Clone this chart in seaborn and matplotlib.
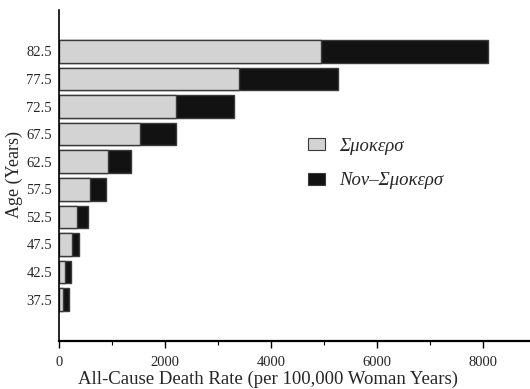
import matplotlib
matplotlib.use("Agg")
import matplotlib.pyplot as plt
import matplotlib.patches as mpatches
from matplotlib.ticker import MultipleLocator
import seaborn as sns
import pandas as pd

# Age-group midpoints (top to bottom) and death rates per 100,000 woman-years
ages = ["82.5", "77.5", "72.5", "67.5", "62.5", "57.5", "52.5", "47.5", "42.5", "37.5"]
smokers = [4950, 3400, 2210, 1530, 930, 590, 340, 245, 115, 80]
non_smokers = [3150, 1860, 1090, 670, 430, 300, 210, 130, 110, 100]

df = pd.DataFrame({"age": ages, "smokers": smokers, "non_smokers": non_smokers})
df["total"] = df["smokers"] + df["non_smokers"]

sns.set_theme(style="white")
plt.rcParams["font.family"] = ["Liberation Serif", "DejaVu Serif"]

fig = plt.figure(figsize=(5.30, 3.89), dpi=100)
ax = fig.add_axes([59 / 530, 1 - 341 / 389, 1 - 59 / 530, 331 / 389])

light = "#d3d3d3"
dark = "#121212"
edge = "#3a3a3a"

# Stacked bars: full total in black underneath, smokers' share in grey on top
sns.barplot(data=df, y="age", x="total", order=ages, orient="h", color=dark,
            saturation=1, width=0.82, edgecolor=edge, linewidth=1.0, ax=ax)
sns.barplot(data=df, y="age", x="smokers", order=ages, orient="h", color=light,
            saturation=1, width=0.82, edgecolor=edge, linewidth=1.0, ax=ax)

ax.set_ylim(len(ages) + 0.5, -1.5)
ax.set_xlim(0, 8890)

ax.xaxis.set_major_locator(MultipleLocator(2000))
ax.xaxis.set_minor_locator(MultipleLocator(1000))
ax.tick_params(axis="x", which="major", direction="out", length=5, width=1,
               color="black", labelsize=10.5, pad=6, bottom=True)
ax.tick_params(axis="x", which="minor", direction="out", length=3, width=0.8,
               color="black", bottom=True)
ax.tick_params(axis="y", length=0, labelsize=10.5, pad=5)

for side in ("top", "right"):
    ax.spines[side].set_visible(False)
ax.spines["left"].set_color("black")
ax.spines["left"].set_linewidth(1.2)
ax.spines["bottom"].set_color("black")
ax.spines["bottom"].set_linewidth(1.6)

ax.set_xlabel("All-Cause Death Rate (per 100,000 Woman Years)", fontsize=13.5)
ax.xaxis.set_label_coords((267.5 - 59) / 471, (341 - 371) / 331)
ax.set_ylabel("Age (Years)", fontsize=13)
ax.yaxis.set_label_coords((23 - 59) / 471, (341 - 174) / 331)

handles = [
    mpatches.Patch(facecolor=light, edgecolor=edge, linewidth=0.8, label="Σμοκερσ"),
    mpatches.Patch(facecolor=dark, edgecolor=edge, linewidth=0.8, label="Νον–Σμοκερσ"),
]
leg = ax.legend(handles=handles, loc="upper left",
                bbox_to_anchor=((308 - 59) / 471, (341 - 138) / 331),
                frameon=False, borderpad=0, borderaxespad=0,
                handlelength=0.9, handleheight=0.6,
                handletextpad=0.75, labelspacing=0.92,
                prop={"family": ["Liberation Serif", "DejaVu Serif"],
                      "style": "italic", "size": 13.5})

fig.savefig("out.png", dpi=100)
